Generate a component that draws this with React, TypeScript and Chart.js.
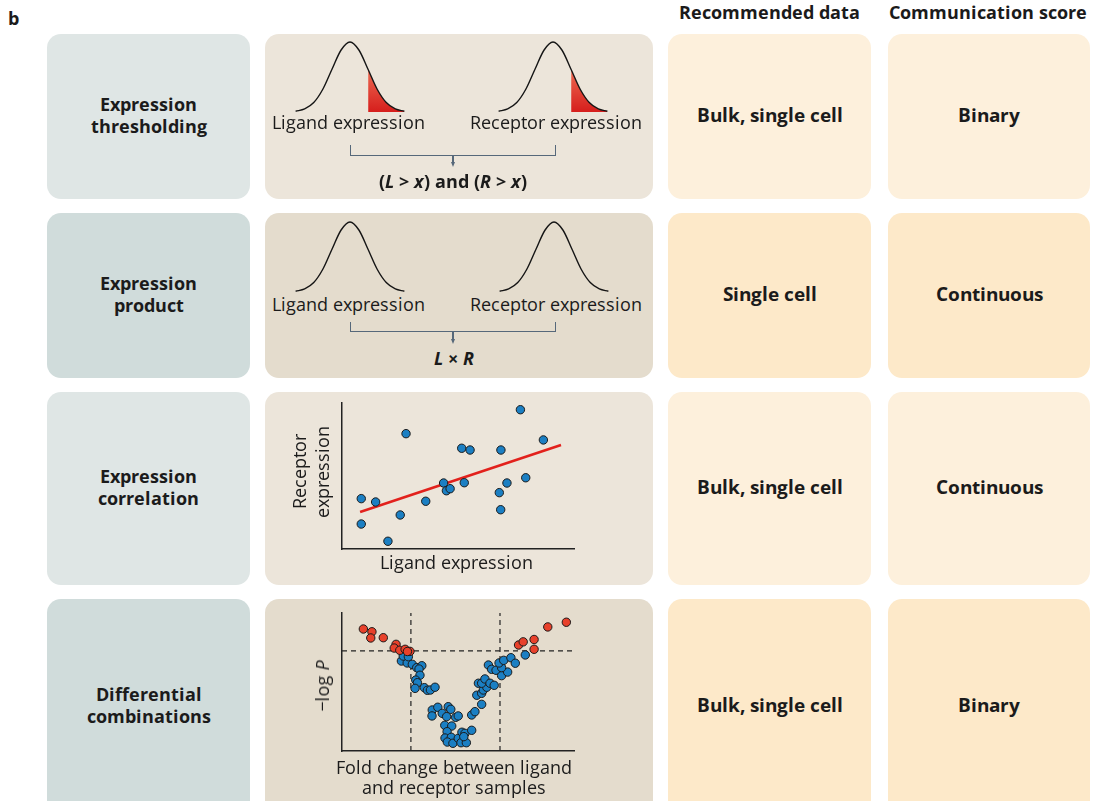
import React, { useEffect, useRef } from "react";
import { Chart, registerables } from "chart.js";
Chart.register(...registerables);

// ---------- data ----------
const PANEL_LABEL = "b";
const HEADERS = ["Recommended data", "Communication score"];
const METHODS = [
  ["Expression", "thresholding"],
  ["Expression", "product"],
  ["Expression", "correlation"],
  ["Differential", "combinations"],
];
const RECOMMENDED = ["Bulk, single cell", "Single cell", "Bulk, single cell", "Bulk, single cell"];
const SCORES = ["Binary", "Continuous", "Continuous", "Binary"];
const CURVE_LABELS = ["Ligand expression", "Receptor expression"];

// schematic bell curve (x in SD units)
const BELL_X = [-3, -2.5, -2, -1.5, -1, -0.5, 0, 0.5, 1, 1.5, 2, 2.5, 3];
const BELL_Y = [0.011, 0.044, 0.135, 0.325, 0.607, 0.882, 1, 0.882, 0.607, 0.325, 0.135, 0.044, 0.011];
const THRESHOLD_X = 1;

// expression correlation
const CORR_LIGAND = [0.83, 0.83, 1.45, 1.98, 2.51, 2.76, 3.61, 4.38, 4.5, 4.66, 5.16, 5.27, 5.52, 6.78, 6.84, 6.85, 7.11, 7.69, 7.92, 8.68];
const CORR_RECEPTOR = [3.45, 1.71, 3.22, 0.53, 2.33, 7.9, 3.27, 4.52, 3.99, 4.13, 6.9, 4.54, 6.78, 3.86, 2.69, 6.78, 4.52, 9.54, 4.88, 7.47];
const FIT_X = [0.78, 9.44];
const FIT_Y = [2.53, 7.12];

// differential combinations (volcano)
const SIG_FC = [0.92, 1.29, 1.24, 1.78, 2.33, 2.25, 2.49, 2.72, 2.93, 2.82, 7.61, 7.81, 8.28, 8.28, 8.87, 9.67];
const SIG_P = [8.84, 8.64, 8.19, 8.21, 7.73, 7.46, 7.3, 7.37, 7.22, 7.21, 7.68, 7.91, 8.08, 7.37, 8.99, 9.33];
const NS_FC = [
  2.56, 2.81, 2.64, 2.86, 3.03, 3.22, 3.44, 3.32, 3.36, 3.18, 3.25, 3.15, 3.55, 3.68, 3.81, 4.01,
  3.89, 4.13, 3.88, 4.32, 4.58, 4.69, 4.51, 4.9, 5.01, 4.43, 4.73, 4.53, 4.44, 4.71, 4.54, 4.78, 5.01, 5.17, 5.3, 5.13, 5.36, 5.25, 5.59,
  5.59, 5.73, 6.02, 5.81, 6.02, 6.09, 6.24, 5.88, 6.02, 6.16, 6.38, 6.56, 6.31, 6.45, 6.64, 6.88, 7.14, 6.88, 6.77, 6.97, 7.28, 7.47, 7.9,
];
const NS_P = [
  6.52, 6.38, 6.88, 6.83, 6.28, 6.04, 6.18, 5.94, 5.49, 5.14, 4.95, 4.54, 4.59, 4.4, 4.42, 4.62,
  2.97, 3.17, 2.54, 2.73, 3.21, 3.02, 2.49, 2.44, 2.54, 1.86, 1.81, 1.4, 0.94, 0.99, 0.65, 0.56, 0.92, 1.36, 1.28, 0.6, 0.6, 1.04, 1.5,
  2.61, 2.85, 3.38, 4.04, 4.18, 4.42, 4.62, 4.91, 4.91, 5.22, 4.91, 4.76, 6.23, 5.92, 5.85, 5.46, 5.72, 6.04, 6.38, 6.57, 6.76, 6.36, 6.96,
];
const FC_CUTOFFS = [2.97, 6.81];
const P_CUTOFF = 7.25;

// ---------- styles ----------
// Open Sans with tighter vertical metrics so stacked lines' text boxes don't overlap
const FONT_CSS = `
@font-face { font-family: 'OSTight'; font-weight: 400; font-style: normal;
  src: local('Open Sans Regular'), local('OpenSans-Regular'), local('Open Sans');
  ascent-override: 88%; descent-override: 20%; line-gap-override: 0%; }
@font-face { font-family: 'OSTight'; font-weight: 400; font-style: italic;
  src: local('Open Sans Italic'), local('OpenSans-Italic');
  ascent-override: 88%; descent-override: 20%; line-gap-override: 0%; }
@font-face { font-family: 'OSTight'; font-weight: 700; font-style: normal;
  src: local('Open Sans Bold'), local('OpenSans-Bold');
  ascent-override: 88%; descent-override: 20%; line-gap-override: 0%; }
@font-face { font-family: 'OSTight'; font-weight: 700; font-style: italic;
  src: local('Open Sans Bold Italic'), local('OpenSans-BoldItalic');
  ascent-override: 88%; descent-override: 20%; line-gap-override: 0%; }
`;
const FONT = "'OSTight', 'Open Sans', sans-serif";
const ASC = 0.88;
const DESC = 0.2;
const INK = "#1b1b1b";
const BLUE = "#1b7fc3";
const RED = "#e8412b";
const COLS = [
  { x: 47, w: 203 },
  { x: 265, w: 388 },
  { x: 668, w: 203 },
  { x: 888, w: 202 },
];
const ROWS = [
  { y: 34, h: 165 },
  { y: 213, h: 165 },
  { y: 392, h: 193 },
  { y: 599, h: 215 },
];
const FILLS = [
  ["#dfe6e5", "#d0dcdb"],
  ["#ece5da", "#e4dccd"],
  ["#fdf0dc", "#fde9c9"],
  ["#fdf0dc", "#fde9c9"],
];

function ChartCanvas({ left, top, width, height, make }: any) {
  const ref = useRef<HTMLCanvasElement>(null);
  useEffect(() => {
    const chart = new Chart(ref.current as HTMLCanvasElement, make());
    return () => chart.destroy();
  }, []);
  return (
    <canvas
      ref={ref}
      width={width}
      height={height}
      style={{ position: "absolute", left, top, width, height }}
    />
  );
}

const baseOptions = (padding: any, scales: any) => ({
  animation: false,
  responsive: false,
  events: [],
  layout: { padding, autoPadding: false },
  plugins: { legend: { display: false }, tooltip: { enabled: false }, title: { display: false } },
  scales,
});

function bellConfig(withTail: boolean): any {
  const curve = BELL_X.map((x, i) => ({ x, y: BELL_Y[i] }));
  const tail = curve.filter((p) => p.x >= THRESHOLD_X);
  const datasets: any[] = [
    {
      data: curve,
      borderColor: "#151515",
      borderWidth: 1.4,
      pointRadius: 0,
      fill: false,
      cubicInterpolationMode: "monotone",
      clip: false,
      order: 0,
    },
  ];
  if (withTail) {
    datasets.push({
      data: tail,
      borderWidth: 0,
      pointRadius: 0,
      fill: "origin",
      cubicInterpolationMode: "monotone",
      clip: false,
      order: 1,
      backgroundColor: (ctx: any) => {
        const area = ctx.chart.chartArea;
        if (!area) return "#e03a28";
        const g = ctx.chart.ctx.createLinearGradient(0, area.top + area.height * 0.4, 0, area.bottom);
        g.addColorStop(0, "#ec6a52");
        g.addColorStop(1, "#d61e1c");
        return g;
      },
    });
  }
  return {
    type: "line",
    data: { datasets },
    options: baseOptions(
      { top: 4, bottom: 2, left: 0, right: 0 },
      {
        x: { type: "linear", min: -3.2, max: 3.2, display: false },
        y: { type: "linear", min: 0, max: 1, display: false },
      }
    ),
  };
}

const axis = () => ({
  type: "linear",
  min: 0,
  max: 10,
  ticks: { display: false },
  grid: { display: true, drawOnChartArea: false, drawTicks: false },
  border: { display: true, color: "#222", width: 1.5 },
});

function corrConfig(): any {
  return {
    type: "scatter",
    data: {
      datasets: [
        {
          data: CORR_LIGAND.map((x, i) => ({ x, y: CORR_RECEPTOR[i] })),
          pointRadius: 4.2,
          backgroundColor: BLUE,
          borderColor: "#1a1a1a",
          borderWidth: 1,
          order: 0,
          clip: false,
        },
        {
          type: "line",
          data: FIT_X.map((x, i) => ({ x, y: FIT_Y[i] })),
          borderColor: "#e2211c",
          borderWidth: 2.6,
          pointRadius: 0,
          order: 1,
        },
      ],
    },
    options: baseOptions({ top: 8, bottom: 8, left: 10, right: 10 }, { x: axis(), y: axis() }),
  };
}

function volcanoConfig(): any {
  const dash = (pts: any[]) => ({
    type: "line",
    data: pts,
    borderColor: "#222",
    borderWidth: 1.2,
    borderDash: [5, 4],
    pointRadius: 0,
    order: 3,
  });
  return {
    type: "scatter",
    data: {
      datasets: [
        {
          data: NS_FC.map((x, i) => ({ x, y: NS_P[i] })),
          pointRadius: 4.2,
          backgroundColor: BLUE,
          borderColor: "#1a1a1a",
          borderWidth: 1,
          order: 1,
          clip: false,
        },
        {
          data: SIG_FC.map((x, i) => ({ x, y: SIG_P[i] })),
          pointRadius: 4.2,
          backgroundColor: RED,
          borderColor: "#1a1a1a",
          borderWidth: 1,
          order: 0,
          clip: false,
        },
        dash([{ x: 0, y: P_CUTOFF }, { x: 10, y: P_CUTOFF }]),
        dash([{ x: FC_CUTOFFS[0], y: 0 }, { x: FC_CUTOFFS[0], y: 10 }]),
        dash([{ x: FC_CUTOFFS[1], y: 0 }, { x: FC_CUTOFFS[1], y: 10 }]),
      ],
    },
    options: baseOptions({ top: 8, bottom: 8, left: 10, right: 10 }, { x: axis(), y: axis() }),
  };
}

// text placed by centre x and baseline
function Txt({ cx, base, size, bold, children, left }: any) {
  return (
    <div
      style={{
        position: "absolute",
        left: left !== undefined ? left : cx,
        top: base - ASC * size,
        transform: left !== undefined ? undefined : "translateX(-50%)",
        fontSize: size,
        lineHeight: `${(ASC + DESC) * size}px`,
        fontWeight: bold ? 700 : 400,
        whiteSpace: "nowrap",
        color: INK,
      }}
    >
      {children}
    </div>
  );
}

function RotTxt({ cx, cy, size, lh, children }: any) {
  return (
    <div
      style={{
        position: "absolute",
        left: cx,
        top: cy,
        transform: "translate(-50%, -50%) rotate(-90deg)",
        fontSize: size,
        lineHeight: `${lh}px`,
        whiteSpace: "nowrap",
        textAlign: "center",
        fontWeight: 400,
        color: INK,
      }}
    >
      {children}
    </div>
  );
}

function Bracket({ left, right, top, bottom, tip }: any) {
  const c = "#56687a";
  const mid = (left + right) / 2;
  return (
    <>
      <div
        style={{
          position: "absolute",
          left,
          top,
          width: right - left,
          height: bottom - top,
          borderLeft: `1.3px solid ${c}`,
          borderRight: `1.3px solid ${c}`,
          borderBottom: `1.3px solid ${c}`,
          boxSizing: "border-box",
        }}
      />
      <div style={{ position: "absolute", left: mid - 0.6, top: bottom, width: 1.2, height: tip - bottom - 4, background: c }} />
      <div
        style={{
          position: "absolute",
          left: mid - 2.5,
          top: tip - 5,
          width: 0,
          height: 0,
          borderLeft: "2.5px solid transparent",
          borderRight: "2.5px solid transparent",
          borderTop: `5px solid ${c}`,
        }}
      />
    </>
  );
}

function Box({ col, row, children }: any) {
  const c = COLS[col];
  const r = ROWS[row];
  return (
    <div
      style={{
        position: "absolute",
        left: c.x,
        top: r.y,
        width: c.w,
        height: r.h,
        borderRadius: 14,
        background: FILLS[col][row % 2],
        display: "flex",
        alignItems: "center",
        justifyContent: "center",
        textAlign: "center",
        fontWeight: 700,
        color: INK,
      }}
    >
      {children}
    </div>
  );
}

export default function App() {
  return (
    <div
      style={{
        position: "absolute",
        left: 0,
        top: 0,
        width: 1094,
        height: 801,
        overflow: "hidden",
        background: "#fff",
        fontFamily: FONT,
        color: INK,
      }}
    >
      <style>{FONT_CSS}</style>
      <Txt left={8} base={26} size={18} bold>
        {PANEL_LABEL}
      </Txt>
      <Txt cx={769.5} base={20} size={18} bold>
        {HEADERS[0]}
      </Txt>
      <Txt cx={988} base={20} size={18} bold>
        {HEADERS[1]}
      </Txt>

      {ROWS.map((_, r) => (
        <React.Fragment key={r}>
          <Box col={0} row={r}>
            <div style={{ fontSize: 18, lineHeight: "21.5px" }}>
              {METHODS[r][0]}
              <br />
              {METHODS[r][1]}
            </div>
          </Box>
          <Box col={1} row={r} />
          <Box col={2} row={r}>
            <div style={{ fontSize: 18.5, lineHeight: "21px" }}>{RECOMMENDED[r]}</div>
          </Box>
          <Box col={3} row={r}>
            <div style={{ fontSize: 18.5, lineHeight: "21px" }}>{SCORES[r]}</div>
          </Box>
        </React.Fragment>
      ))}

      {/* Row 1: expression thresholding */}
      <ChartCanvas left={292} top={38} width={116} height={76} make={() => bellConfig(true)} />
      <ChartCanvas left={495} top={38} width={116} height={76} make={() => bellConfig(true)} />
      <Txt cx={348.5} base={130} size={18}>
        {CURVE_LABELS[0]}
      </Txt>
      <Txt cx={556} base={130} size={18}>
        {CURVE_LABELS[1]}
      </Txt>
      <Bracket left={350} right={556} top={145} bottom={156} tip={167} />
      <Txt cx={453} base={189} size={17.5} bold>
        (<i>L</i> &gt; <i>x</i>) and (<i>R</i> &gt; <i>x</i>)
      </Txt>

      {/* Row 2: expression product */}
      <ChartCanvas left={292} top={218} width={116} height={76} make={() => bellConfig(false)} />
      <ChartCanvas left={496} top={218} width={116} height={76} make={() => bellConfig(false)} />
      <Txt cx={348.5} base={312} size={18}>
        {CURVE_LABELS[0]}
      </Txt>
      <Txt cx={556} base={312} size={18}>
        {CURVE_LABELS[1]}
      </Txt>
      <Bracket left={350} right={556} top={322} bottom={332} tip={344} />
      <Txt cx={453.5} base={366} size={17.5} bold>
        <i>L</i> × <i>R</i>
      </Txt>

      {/* Row 3: expression correlation */}
      <ChartCanvas left={332} top={395} width={252} height={162} make={corrConfig} />
      <RotTxt cx={312} cy={472} size={18} lh={23}>
        Receptor
        <br />
        expression
      </RotTxt>
      <Txt cx={456.5} base={570} size={18}>
        Ligand expression
      </Txt>

      {/* Row 4: differential combinations */}
      <ChartCanvas left={332} top={605} width={252} height={154} make={volcanoConfig} />
      <RotTxt cx={323} cy={686} size={18} lh={22}>
        −log <i>P</i>
      </RotTxt>
      <Txt cx={453.5} base={775} size={18}>
        Fold change between ligand
      </Txt>
      <Txt cx={453.5} base={795} size={18}>
        and receptor samples
      </Txt>
    </div>
  );
}
